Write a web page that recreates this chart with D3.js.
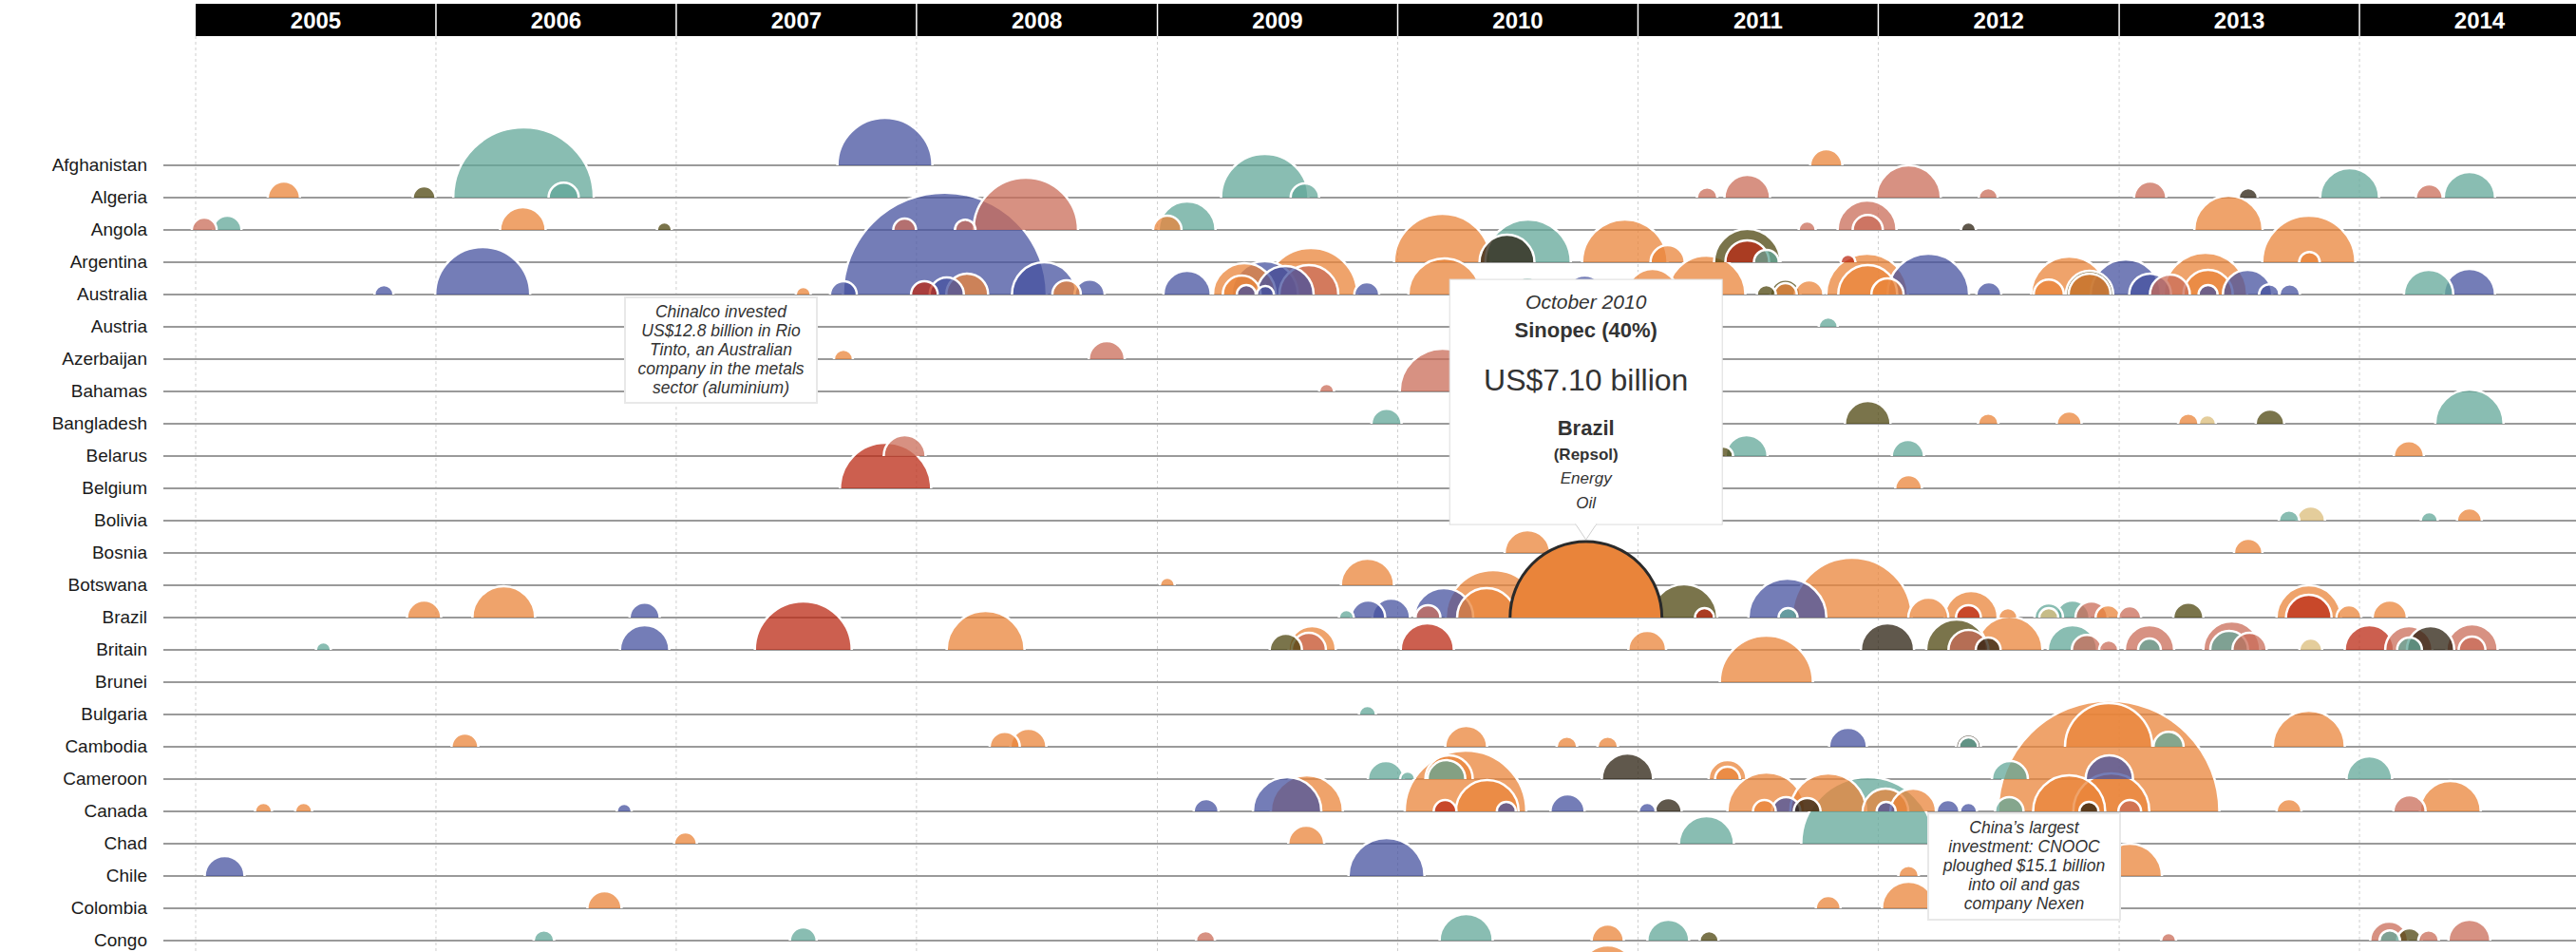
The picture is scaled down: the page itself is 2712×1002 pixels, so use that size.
<!DOCTYPE html>
<html><head><meta charset="utf-8">
<script src="https://cdn.jsdelivr.net/npm/d3@7"></script>
<style>
html,body{margin:0;padding:0;background:#fff;overflow:hidden}
svg{display:block;font-family:"Liberation Sans",Arial,sans-serif}
</style></head><body>
<svg id="chart" width="2712" height="1002"></svg>
<script>
const years = [2005,2006,2007,2008,2009,2010,2011,2012,2013,2014];
const countries = ["Afghanistan","Algeria","Angola","Argentina","Australia","Austria","Azerbaijan","Bahamas","Bangladesh","Belarus","Belgium","Bolivia","Bosnia","Botswana","Brazil","Britain","Brunei","Bulgaria","Cambodia","Cameroon","Canada","Chad","Chile","Colombia","Congo","Costa Rica"];
const sectorCodes = ["E","M","R","A","T","C","F","O"];
const sectorNames = ["Energy","Metals","Real estate","Agriculture","Technology","Chemicals","Finance","Other"];
// [country, date, value US$bn, sector]
const deals = [
["Afghanistan","2007-11-14",2.78,"M"],["Afghanistan","2011-10-14",0.32,"E"],
["Algeria","2005-05-15",.32,"E"],["Algeria","2005-12-14",.16,"T"],["Algeria","2006-05-14",6.08,"A"],["Algeria","2006-07-14",.28,"A"],["Algeria","2009-06-13",2.35,"A"],["Algeria","2009-08-13",.25,"A"],["Algeria","2011-04-16",.13,"R"],["Algeria","2011-06-16",.64,"R"],["Algeria","2012-02-16",1.28,"R"],["Algeria","2012-06-16",.11,"R"],["Algeria","2013-02-17",.32,"R"],["Algeria","2013-07-16",.11,"C"],["Algeria","2013-12-17",1.07,"A"],["Algeria","2014-04-17",.22,"R"],["Algeria","2014-06-17",.81,"A"],
["Angola","2005-01-14",.19,"R"],["Angola","2005-02-18",.25,"A"],["Angola","2006-05-13",.64,"E"],["Angola","2006-12-14",.07,"T"],["Angola","2007-12-14",.16,"R"],["Angola","2008-03-15",.13,"R"],["Angola","2008-06-15",3.36,"R"],["Angola","2009-01-16",.25,"E"],["Angola","2009-02-15",1.0,"A"],["Angola","2011-09-15",.09,"R"],["Angola","2011-12-15",1.07,"R"],["Angola","2011-12-16",.28,"R"],["Angola","2012-05-17",.07,"C"],["Angola","2013-06-16",1.44,"E"],
["Argentina","2010-03-10",2.89,"E"],["Argentina","2010-07-18",2.25,"A"],["Argentina","2010-06-16",.93,"C"],["Argentina","2010-12-12",2.25,"E"],["Argentina","2011-02-15",.36,"E"],["Argentina","2011-06-16",1.36,"T"],["Argentina","2011-06-16",.59,"F"],["Argentina","2011-07-15",.19,"A"],["Argentina","2011-11-16",.07,"F"],["Argentina","2013-10-16",2.67,"E"],["Argentina","2013-10-17",.13,"E"],
["Australia","2005-10-14",.11,"M"],["Australia","2006-03-13",2.78,"M"],["Australia","2007-07-13",.07,"E"],["Australia","2007-09-12",.22,"M"],["Australia","2008-02-13",12.8,"M"],["Australia","2008-01-13",.22,"F"],["Australia","2008-02-16",.36,"M"],["Australia","2008-03-18",.54,"E"],["Australia","2008-07-13",1.28,"M"],["Australia","2008-08-16",.25,"E"],["Australia","2008-09-20",.28,"M"],
["Australia","2009-02-15",.69,"M"],["Australia","2009-05-13",1.21,"E"],["Australia","2009-06-13",1.36,"M"],["Australia","2009-08-22",2.67,"E"],["Australia","2009-08-19",1.07,"R"],["Australia","2009-07-14",1.0,"M"],["Australia","2009-05-09",.44,"E"],["Australia","2009-05-16",.11,"M"],["Australia","2009-06-14",.09,"M"],["Australia","2009-11-15",.19,"M"],
["Australia","2010-03-13",1.6,"E"],["Australia","2010-07-17",.36,"A"],["Australia","2010-10-12",.44,"M"],["Australia","2011-01-23",.81,"E"],["Australia","2011-04-15",1.87,"E"],["Australia","2011-07-15",.11,"T"],["Australia","2011-08-13",.28,"T"],["Australia","2011-08-13",.16,"E"],["Australia","2011-09-18",.25,"E"],["Australia","2011-12-15",2.05,"E"],["Australia","2011-12-16",1.07,"E"],
["Australia","2012-01-15",.32,"E"],["Australia","2012-03-17",2.05,"M"],["Australia","2012-06-17",.19,"M"],["Australia","2012-10-17",1.78,"E"],["Australia","2012-09-16",.28,"E"],["Australia","2012-11-17",.69,"T"],["Australia","2012-11-17",.54,"E"],
["Australia","2013-01-11",1.52,"M"],["Australia","2013-02-17",.54,"M"],["Australia","2013-03-19",.49,"R"],["Australia","2013-05-12",2.15,"E"],["Australia","2013-05-16",.75,"E"],["Australia","2013-05-16",.11,"M"],["Australia","2013-07-15",.75,"M"],["Australia","2013-08-17",.13,"M"],["Australia","2013-09-17",.13,"M"],["Australia","2014-04-16",.75,"A"],["Australia","2014-06-17",.81,"M"],
["Austria","2011-10-17",.11,"A"],
["Azerbaijan","2007-09-12",.11,"E"],["Azerbaijan","2008-10-16",.40,"R"],
["Bahamas","2009-09-15",.07,"R"],["Bahamas","2010-03-10",2.25,"R"],
["Bangladesh","2009-12-15",.28,"A"],["Bangladesh","2011-12-16",.64,"T"],["Bangladesh","2012-06-16",.13,"E"],["Bangladesh","2012-10-17",.19,"E"],["Bangladesh","2013-04-16",.13,"E"],["Bangladesh","2013-05-15",.09,"O"],["Bangladesh","2013-08-18",.25,"T"],["Bangladesh","2014-06-17",1.44,"A"],
["Belarus","2007-12-14",.54,"R"],["Belarus","2011-05-11",.11,"T"],["Belarus","2011-06-15",.54,"A"],["Belarus","2012-02-15",.32,"A"],["Belarus","2014-03-17",.28,"E"],
["Belgium","2007-11-15",2.56,"F"],["Belgium","2012-02-16",.22,"E"],
["Bolivia","2013-09-16",.13,"A"],["Bolivia","2013-10-19",.25,"O"],["Bolivia","2014-04-17",.09,"A"],["Bolivia","2014-06-17",.19,"E"],
["Bosnia","2010-07-17",.64,"E"],["Bosnia","2013-07-16",.25,"E"],
["Botswana","2009-01-16",.07,"E"],["Botswana","2009-11-16",.87,"E"],
["Brazil","2005-12-14",.36,"E"],["Brazil","2006-04-14",1.21,"E"],["Brazil","2006-11-14",.28,"M"],["Brazil","2009-10-15",.07,"A"],["Brazil","2009-11-17",.36,"M"],["Brazil","2009-12-22",.44,"M"],["Brazil","2010-02-16",.19,"R"],["Brazil","2010-03-12",1.07,"M"],["Brazil","2010-05-16",1.07,"E"],["Brazil","2010-05-26",2.78,"E"],["Brazil","2010-08-17",.36,"A"],["Brazil","2010-10-14",7.10,"E"],["Brazil","2010-12-16",.22,"F"],
["Brazil","2011-03-12",1.36,"T"],["Brazil","2011-04-12",.11,"F"],["Brazil","2011-08-16",1.87,"M"],["Brazil","2011-08-17",.11,"A"],["Brazil","2011-11-22",4.41,"E"],["Brazil","2012-03-17",.49,"E"],["Brazil","2012-05-21",.87,"E"],["Brazil","2012-05-17",.19,"F"],["Brazil","2012-07-16",.11,"E"],["Brazil","2012-09-16",.25,"A"],["Brazil","2012-09-16",.11,"O"],["Brazil","2012-10-22",.36,"A"],["Brazil","2012-11-20",.32,"R"],["Brazil","2012-12-15",.19,"E"],["Brazil","2013-01-17",.16,"R"],["Brazil","2013-04-16",.28,"T"],["Brazil","2013-10-16",1.28,"E"],["Brazil","2013-10-16",.64,"F"],["Brazil","2013-12-16",.19,"E"],["Brazil","2014-02-16",.36,"E"],
["Britain","2005-07-14",.07,"A"],["Britain","2006-11-14",.75,"M"],["Britain","2007-07-13",2.89,"F"],["Britain","2008-04-15",1.87,"E"],["Britain","2009-07-15",.32,"T"],["Britain","2009-08-24",.69,"E"],["Britain","2009-08-19",.36,"R"],["Britain","2010-02-15",.87,"F"],["Britain","2011-01-15",.44,"E"],
["Britain","2012-01-15",.87,"C"],["Britain","2012-04-29",1.14,"T"],["Britain","2012-07-18",1.36,"E"],["Britain","2012-05-17",.49,"R"],["Britain","2012-06-16",.19,"C"],["Britain","2012-10-22",.75,"A"],["Britain","2012-11-13",.28,"R"],["Britain","2012-12-16",.11,"R"],["Britain","2013-02-16",.75,"R"],["Britain","2013-02-16",.16,"A"],["Britain","2013-06-21",1.0,"R"],["Britain","2013-06-17",.44,"A"],["Britain","2013-07-18",.36,"R"],["Britain","2013-10-19",.16,"O"],["Britain","2014-01-16",.75,"F"],["Britain","2014-03-17",.69,"R"],["Britain","2014-04-19",.69,"C"],["Britain","2014-03-18",.19,"A"],["Britain","2014-06-21",.81,"R"],["Britain","2014-06-21",.22,"R"],
["Brunei","2011-07-15",2.67,"E"],
["Bulgaria","2009-11-16",.09,"A"],
["Cambodia","2006-02-14",.22,"E"],["Cambodia","2008-05-14",.28,"E"],["Cambodia","2008-06-19",.40,"E"],["Cambodia","2010-04-15",.54,"E"],["Cambodia","2010-09-15",.13,"E"],["Cambodia","2010-11-16",.13,"E"],["Cambodia","2011-11-16",.44,"M"],["Cambodia","2012-05-17",.19,"C"],["Cambodia","2012-05-17",.11,"A"],["Cambodia","2012-12-16",2.35,"E"],["Cambodia","2013-03-17",.28,"A"],["Cambodia","2013-10-16",1.6,"E"],
["Cameroon","2009-12-14",.40,"A"],["Cameroon","2010-01-16",.07,"A"],["Cameroon","2010-03-20",.69,"E"],["Cameroon","2010-03-16",.44,"A"],["Cameroon","2010-12-16",.81,"C"],["Cameroon","2011-05-17",.44,"E"],["Cameroon","2011-05-17",.19,"E"],["Cameroon","2012-07-19",.40,"A"],["Cameroon","2012-12-17",.69,"M"],["Cameroon","2014-01-16",.64,"A"],
["Canada","2005-04-14",.09,"E"],["Canada","2005-06-14",.09,"E"],["Canada","2006-10-14",.07,"M"],["Canada","2009-03-16",.19,"M"],["Canada","2009-07-17",1.44,"M"],["Canada","2009-08-16",1.6,"E"],["Canada","2010-04-14",4.55,"E"],["Canada","2010-05-17",1.21,"E"],["Canada","2010-03-14",.16,"F"],["Canada","2010-06-15",.11,"M"],["Canada","2010-09-16",.36,"M"],["Canada","2011-01-15",.09,"M"],["Canada","2011-02-16",.22,"C"],
["Canada","2011-07-12",.16,"E"],["Canada","2011-07-15",1.87,"E"],["Canada","2011-08-14",.25,"M"],["Canada","2011-09-15",.22,"C"],["Canada","2011-10-17",1.78,"E"],["Canada","2012-01-12",.64,"E"],["Canada","2012-01-13",.11,"M"],["Canada","2012-02-23",.64,"E"],["Canada","2012-04-16",.16,"M"],["Canada","2012-05-17",.09,"M"],["Canada","2012-07-18",.25,"A"],["Canada","2012-12-16",15.1,"E"],["Canada","2012-10-17",1.6,"E"],["Canada","2012-12-20",1.78,"E"],["Canada","2012-11-16",.11,"C"],["Canada","2013-01-17",.16,"R"],["Canada","2013-09-16",.19,"E"],["Canada","2014-03-18",.32,"R"],["Canada","2014-05-19",1.14,"E"],
["Chad","2007-01-15",.16,"E"],["Chad","2009-08-15",.40,"E"],["Chad","2011-04-15",.93,"A"],["Chad","2011-12-16",5.44,"A"],
["Chile","2005-02-14",.49,"M"],["Chile","2009-12-15",1.78,"M"],["Chile","2012-02-16",.13,"E"],["Chile","2013-01-17",1.28,"E"],
["Colombia","2006-09-14",.36,"E"],["Colombia","2011-10-17",.19,"E"],["Colombia","2012-02-16",.87,"E"],
["Congo","2006-06-14",.13,"A"],["Congo","2007-07-13",.22,"A"],["Congo","2009-03-15",.11,"R"],["Congo","2010-04-15",.87,"A"],["Congo","2010-11-16",.32,"E"],["Congo","2011-02-16",.54,"A"],["Congo","2011-04-19",.11,"T"],["Congo","2013-03-17",.07,"R"],["Congo","2014-02-15",.44,"R"],["Congo","2014-02-16",.13,"A"],["Congo","2014-03-18",.19,"T"],["Congo","2014-04-16",.13,"R"],["Congo","2014-06-17",.54,"R"],
["Costa Rica","2010-11-16",.93,"E"]
];
const highlight = ["Brazil","2010-10-14"];
const tooltipLines = ["October 2010","Sinopec (40%)","US$7.10 billion","Brazil","(Repsol)","Energy","Oil"];
const noteChinalco = ["Chinalco invested","US$12.8 billion in Rio","Tinto, an Australian","company in the metals","sector (aluminium)"];
const noteCnooc = ["China\u2019s largest","investment: CNOOC","ploughed $15.1 billion","into oil and gas","company Nexen"];

const W = 2712, H = 1002;
const parse = d3.utcParse("%Y-%m-%d");
const svg = d3.select("#chart");
const x = d3.scaleUtc().domain([Date.UTC(2005,0,1), Date.UTC(2015,0,1)]).range([206, 2737]);
const y = d3.scalePoint().domain(countries).range([174, 174 + (countries.length-1)*34]);
const r = d3.scaleSqrt().domain([0,16]).range([0,120]);
const color = d3.scaleOrdinal().domain(sectorCodes).range(["#e9843a","#45529f","#ca6c58","#62a798","#4e460f","#2b2010","#bb2a14","#dbbc7a"]);

// grid lines
svg.append("g").selectAll("line").data(years).join("line")
  .attr("x1", d=>x(Date.UTC(d,0,1))).attr("x2", d=>x(Date.UTC(d,0,1)))
  .attr("y1", 38).attr("y2", H)
  .attr("stroke","#cfcfcf").attr("stroke-width",1).attr("stroke-dasharray","3,3");

// row lines + labels (only rows whose label falls inside the picture)
const rows = svg.append("g");
rows.selectAll("line").data(countries).join("line")
  .attr("x1",172).attr("x2",W).attr("y1",d=>y(d)).attr("y2",d=>y(d))
  .attr("stroke","#9a9a9a").attr("stroke-width",2);
rows.selectAll("text").data(countries.filter(c=>y(c) < H - 8)).join("text")
  .attr("x",155).attr("y",d=>y(d)).attr("dy","0.33em").attr("text-anchor","end")
  .attr("font-size",19).attr("fill","#1a1a1a").text(d=>d);

// header
const head = svg.append("g");
head.append("rect").attr("x",x(Date.UTC(2005,0,1))).attr("y",4).attr("width",W).attr("height",34).attr("fill","#000");
head.selectAll("line").data(years.slice(1)).join("line")
  .attr("x1",d=>x(Date.UTC(d,0,1))).attr("x2",d=>x(Date.UTC(d,0,1))).attr("y1",4).attr("y2",38)
  .attr("stroke","#fff").attr("stroke-width",1.5);
head.selectAll("text").data(years).join("text")
  .attr("x",d=>(x(Date.UTC(d,0,1))+x(Date.UTC(d+1,0,1)))/2).attr("y",30)
  .attr("text-anchor","middle").attr("font-size",24).attr("font-weight","bold").attr("fill","#fff").text(d=>d);

// bubbles
function semi(rad){ const p=d3.path(); p.moveTo(-rad,0); p.arc(0,0,rad,Math.PI,2*Math.PI); return p.toString(); }
const data = deals.map(d=>({country:d[0], date:parse(d[1]), value:d[2], sector:d[3], hl: d[0]===highlight[0] && d[1]===highlight[1]}))
  .sort((a,b)=> (a.hl-b.hl) || (b.value-a.value));
svg.append("g").selectAll("path").data(data).join("path")
  .attr("transform", d=>`translate(${x(d.date)},${y(d.country)})`)
  .attr("d", d=>semi(r(d.value)))
  .attr("fill", d=>color(d.sector))
  .attr("fill-opacity", d=>d.hl?1:0.75)
  .attr("stroke", d=>d.hl?"#2a2a2a":"#fff")
  .attr("stroke-width", d=>d.hl?3:2.5);

// annotation notes
function note(lines, x0, y0, w, h){
  const g = svg.append("g");
  g.append("rect").attr("x",x0).attr("y",y0).attr("width",w).attr("height",h)
    .attr("fill","#fff").attr("stroke","#e8e8e8").attr("stroke-width",2);
  g.selectAll("text").data(lines).join("text")
    .attr("x",x0+w/2).attr("y",(d,i)=>y0+21+i*20).attr("text-anchor","middle")
    .attr("font-size",17.5).attr("font-style","italic").attr("fill","#333").text(d=>d);
}
note(noteChinalco, 658, 313, 202, 111);
note(noteCnooc, 2030, 856, 202, 112);

// tooltip
const hd = data.find(d=>d.hl);
const tx = x(hd.date), tipY = y(hd.country) - r(hd.value) - 2;
const bw = 287, bh = 258, by = tipY - 16 - bh;
const tg = svg.append("g");
tg.append("rect").attr("x",tx-bw/2).attr("y",by).attr("width",bw).attr("height",bh)
  .attr("fill","#fff").attr("stroke","#dcdcdc").attr("stroke-width",1);
tg.append("path").attr("d",`M${tx-11},${by+bh-0.5} L${tx},${tipY} L${tx+11},${by+bh-0.5}`)
  .attr("fill","#fff").attr("stroke","#cfcfcf").attr("stroke-width",1);
tg.append("line").attr("x1",tx-10).attr("x2",tx+10).attr("y1",by+bh).attr("y2",by+bh).attr("stroke","#fff").attr("stroke-width",2);
const tstyle = [
  {dy:31, size:21, weight:"normal", style:"italic"},
  {dy:61, size:22, weight:"bold", style:"normal"},
  {dy:117, size:32, weight:"normal", style:"normal"},
  {dy:164, size:22, weight:"bold", style:"normal"},
  {dy:190, size:17, weight:"bold", style:"normal"},
  {dy:215, size:17, weight:"normal", style:"italic"},
  {dy:241, size:17, weight:"normal", style:"italic"}
];
tg.selectAll("text").data(tooltipLines).join("text")
  .attr("x",tx).attr("y",(d,i)=>by+tstyle[i].dy).attr("text-anchor","middle")
  .attr("font-size",(d,i)=>tstyle[i].size).attr("font-weight",(d,i)=>tstyle[i].weight)
  .attr("font-style",(d,i)=>tstyle[i].style).attr("fill","#333").text(d=>d);
</script>
</body></html>
